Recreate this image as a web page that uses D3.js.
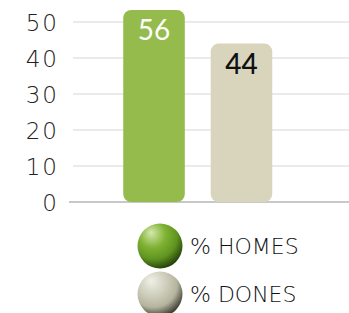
<!DOCTYPE html>
<html><head><meta charset="utf-8">
<script src="https://cdn.jsdelivr.net/npm/d3@7"></script>
<style>html,body{margin:0;padding:0;background:#fff;overflow:hidden}</style>
</head><body>
<svg id="c" width="349" height="313"></svg>
<script>
const categories = ["% HOMES", "% DONES"];
const values = [56, 44];
const tickValues = [0, 10, 20, 30, 40, 50];
const barColors = ["#94bb4b", "#d9d5bd"];
const labelColors = ["#ffffff", "#111111"];

const svg = d3.select("#c");
const font = "Lato, 'Noto Sans', sans-serif";
const thin = "'DejaVu Sans', sans-serif";

const y = d3.scaleLinear().domain([0, 53.33]).range([202, 10]).clamp(true);
const x = d3.scaleBand().domain(categories).range([97, 298.5]).paddingInner(0.296).paddingOuter(0.3);

// gridlines
svg.append("g").selectAll("line").data(tickValues).join("line")
  .attr("x1", d => d === 0 ? 69 : 73).attr("x2", 349)
  .attr("y1", d => y(d)).attr("y2", d => y(d))
  .attr("stroke", d => d === 0 ? "#c8c8c8" : "#d6d6d6")
  .attr("stroke-width", d => d === 0 ? 2 : 1);

// axis labels
const yAxis = d3.axisLeft(y).tickValues(tickValues).tickSize(0).tickPadding(0);
const ga = svg.append("g").attr("transform", "translate(59,0)").call(yAxis);
ga.select(".domain").remove();
ga.selectAll("text").attr("font-family", thin).attr("font-weight", 200)
  .attr("font-size", 23).attr("letter-spacing", 2).attr("fill", "#222").attr("dy", "0.36em");

// bars
svg.append("g").selectAll("rect").data(values).join("rect")
  .attr("x", (d, i) => x(categories[i]))
  .attr("width", x.bandwidth())
  .attr("y", d => y(d))
  .attr("height", d => y(0) - y(d))
  .attr("rx", 8).attr("ry", 8)
  .attr("fill", (d, i) => barColors[i]);

// value labels
svg.append("g").selectAll("text").data(values).join("text")
  .attr("x", (d, i) => x(categories[i]) + x.bandwidth() / 2)
  .attr("y", d => y(d) + 30)
  .attr("text-anchor", "middle")
  .attr("font-family", font).attr("font-size", 28)
  .attr("font-weight", (d, i) => i === 0 ? 400 : 500)
  .attr("fill", (d, i) => labelColors[i])
  .text(d => d);

// legend gradients
const defs = svg.append("defs");
const grads = [
  ["#d4e8ae", "#7fb232", "#5f9420", "#1f3608"],
  ["#f0f0e6", "#cfcfbd", "#b4b49e", "#2e2e24"]
];
grads.forEach((g, i) => {
  const rg = defs.append("radialGradient").attr("id", "g" + i)
    .attr("cx", "38%").attr("cy", "30%").attr("r", "75%").attr("fx", "30%").attr("fy", "20%");
  rg.append("stop").attr("offset", "0%").attr("stop-color", g[0]);
  rg.append("stop").attr("offset", "40%").attr("stop-color", g[1]);
  rg.append("stop").attr("offset", "70%").attr("stop-color", g[2]);
  rg.append("stop").attr("offset", "100%").attr("stop-color", g[3]);
});

const legend = svg.append("g").selectAll("g").data(categories).join("g")
  .attr("transform", (d, i) => `translate(160,${246 + i * 48})`);
legend.append("circle").attr("r", 22.5).attr("fill", (d, i) => `url(#g${i})`);
legend.append("text").attr("x", 30).attr("y", 7.5)
  .attr("font-family", thin).attr("font-weight", 200).attr("font-size", 22)
  .attr("fill", "#111").text(d => d);
</script>
</body></html>
